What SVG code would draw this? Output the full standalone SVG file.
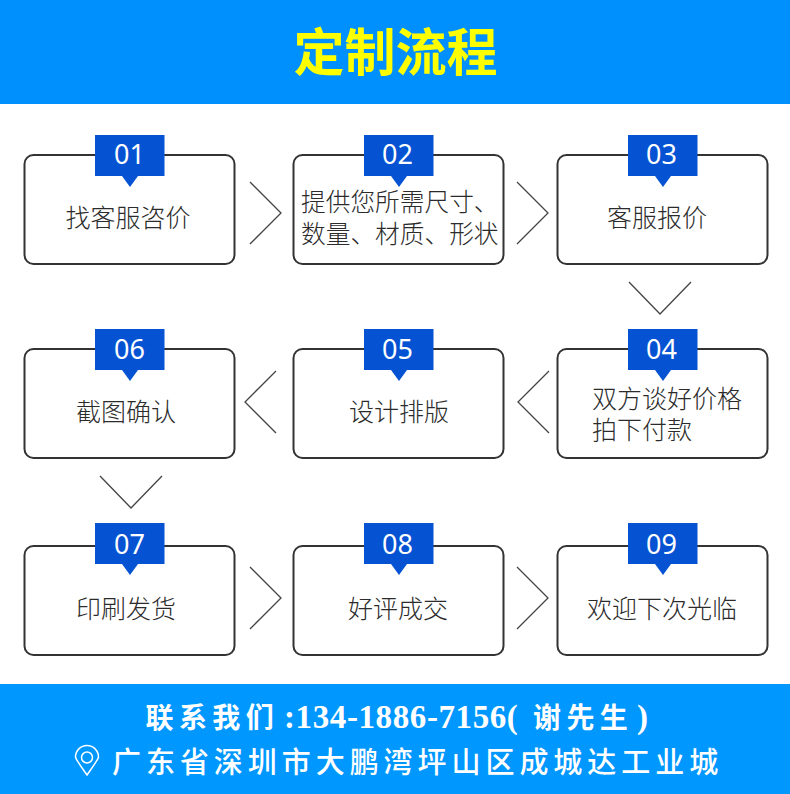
<svg xmlns="http://www.w3.org/2000/svg" width="790" height="794" viewBox="0 0 790 794">
  <style>
    text { font-family: "Noto Sans CJK SC", "Noto Sans", sans-serif; }
    .box { fill: #fff; stroke: #333; stroke-width: 2; }
    .tag { fill: #0553d3; }
    .num { fill: #fff; font-family: "Noto Sans", "Noto Sans CJK SC", sans-serif; font-size: 27px; text-anchor: middle; }
    .lbl { fill: #2b2b2b; font-size: 25px; font-weight: 300; }
    .tight { font-size: 24.700px; }
    .mid { text-anchor: middle; }
    .chev { fill: none; stroke: #444; stroke-width: 1.3; }
    .foot { fill: #fff; }
    .serif { font-family: "Liberation Serif", serif; font-weight: 700; font-size: 33px; letter-spacing: 0.6px; }
    .cjk { font-size: 28px; font-weight: 700; letter-spacing: 5.400px; }
  </style>
  <defs>
    <g id="tag">
      <rect class="tag" x="0" y="0" width="69.500" height="41"/>
      <path class="tag" d="M27 41H43L35 52Z"/>
    </g>
  </defs>
  <rect width="790" height="794" fill="#fff"/>

  <g id="header">
    <rect width="790" height="104" fill="#0090fe"/>
    <text x="395.500" y="71" font-size="51" font-weight="700" fill="#ffff00" text-anchor="middle">定制流程</text>
  </g>

  <g id="connectors">
    <path class="chev" d="M250 182L281 213L250 244"/>
    <path class="chev" d="M517 182L548 213L517 244"/>
    <path class="chev" d="M629 282L660 314L691 282"/>
    <path class="chev" d="M549 371L518 402L549 433"/>
    <path class="chev" d="M276 371L245 402L276 433"/>
    <path class="chev" d="M100 476L131 508L162 476"/>
    <path class="chev" d="M250 567L281 598L250 629"/>
    <path class="chev" d="M517 567L548 598L517 629"/>
  </g>

  <g id="node-01">
    <rect class="box" x="24.500" y="155" width="210" height="109" rx="9"/>
    <use href="#tag" x="95" y="135"/>
    <text class="num" x="129.500" y="164">01</text>
    <text class="lbl mid" x="128" y="227">找客服咨价</text>
  </g>
  <g id="node-02">
    <rect class="box" x="293.500" y="155" width="210" height="109" rx="9"/>
    <use href="#tag" x="364" y="135"/>
    <text class="num" x="397.500" y="164">02</text>
    <text class="lbl tight"><tspan x="301" y="211">提供您所需尺寸、</tspan><tspan x="301" y="243">数量、材质、形状</tspan></text>
  </g>
  <g id="node-03">
    <rect class="box" x="557.500" y="155" width="210" height="109" rx="9"/>
    <use href="#tag" x="628" y="135"/>
    <text class="num" x="661.500" y="164">03</text>
    <text class="lbl mid" x="657" y="227">客服报价</text>
  </g>

  <g id="node-04">
    <rect class="box" x="557.500" y="349" width="210" height="109" rx="9"/>
    <use href="#tag" x="628" y="329"/>
    <text class="num" x="661.500" y="359">04</text>
    <text class="lbl"><tspan x="592" y="408">双方谈好价格</tspan><tspan x="592" y="439">拍下付款</tspan></text>
  </g>
  <g id="node-05">
    <rect class="box" x="293.500" y="349" width="210" height="109" rx="9"/>
    <use href="#tag" x="364" y="329"/>
    <text class="num" x="397.500" y="359">05</text>
    <text class="lbl mid" x="399" y="421">设计排版</text>
  </g>
  <g id="node-06">
    <rect class="box" x="24.500" y="349" width="210" height="109" rx="9"/>
    <use href="#tag" x="95" y="329"/>
    <text class="num" x="129.500" y="359">06</text>
    <text class="lbl mid" x="126" y="421">截图确认</text>
  </g>

  <g id="node-07">
    <rect class="box" x="24.500" y="546" width="210" height="109" rx="9"/>
    <use href="#tag" x="95" y="523"/>
    <text class="num" x="129.500" y="554">07</text>
    <text class="lbl mid" x="126" y="618">印刷发货</text>
  </g>
  <g id="node-08">
    <rect class="box" x="293.500" y="546" width="210" height="109" rx="9"/>
    <use href="#tag" x="364" y="523"/>
    <text class="num" x="397.500" y="554">08</text>
    <text class="lbl mid" x="398" y="618">好评成交</text>
  </g>
  <g id="node-09">
    <rect class="box" x="557.500" y="546" width="210" height="109" rx="9"/>
    <use href="#tag" x="628" y="523"/>
    <text class="num" x="661.500" y="554">09</text>
    <text class="lbl mid" x="662" y="618">欢迎下次光临</text>
  </g>

  <g id="footer">
    <rect y="684" width="790" height="110" fill="#0097ff"/>
    <text class="foot" y="728"><tspan class="cjk" x="145.500">联系我们</tspan><tspan class="serif" x="284">:134-1886-7156(</tspan><tspan class="cjk" x="533">谢先生</tspan><tspan class="serif" x="637">)</tspan></text>
    <text class="foot" x="112" y="773" font-size="29" font-weight="500" letter-spacing="4.950">广东省深圳市大鹏湾坪山区成城达工业城</text>
    <g id="pin" fill="none" stroke="#fff" stroke-width="1.500">
      <path d="M87 775C80 765 75.500 759 75.500 757A11.500 11.500 0 0 1 98.500 757C98.500 759 94 765 87 775Z"/>
      <circle cx="87" cy="757.500" r="5.500"/>
    </g>
  </g>
</svg>
